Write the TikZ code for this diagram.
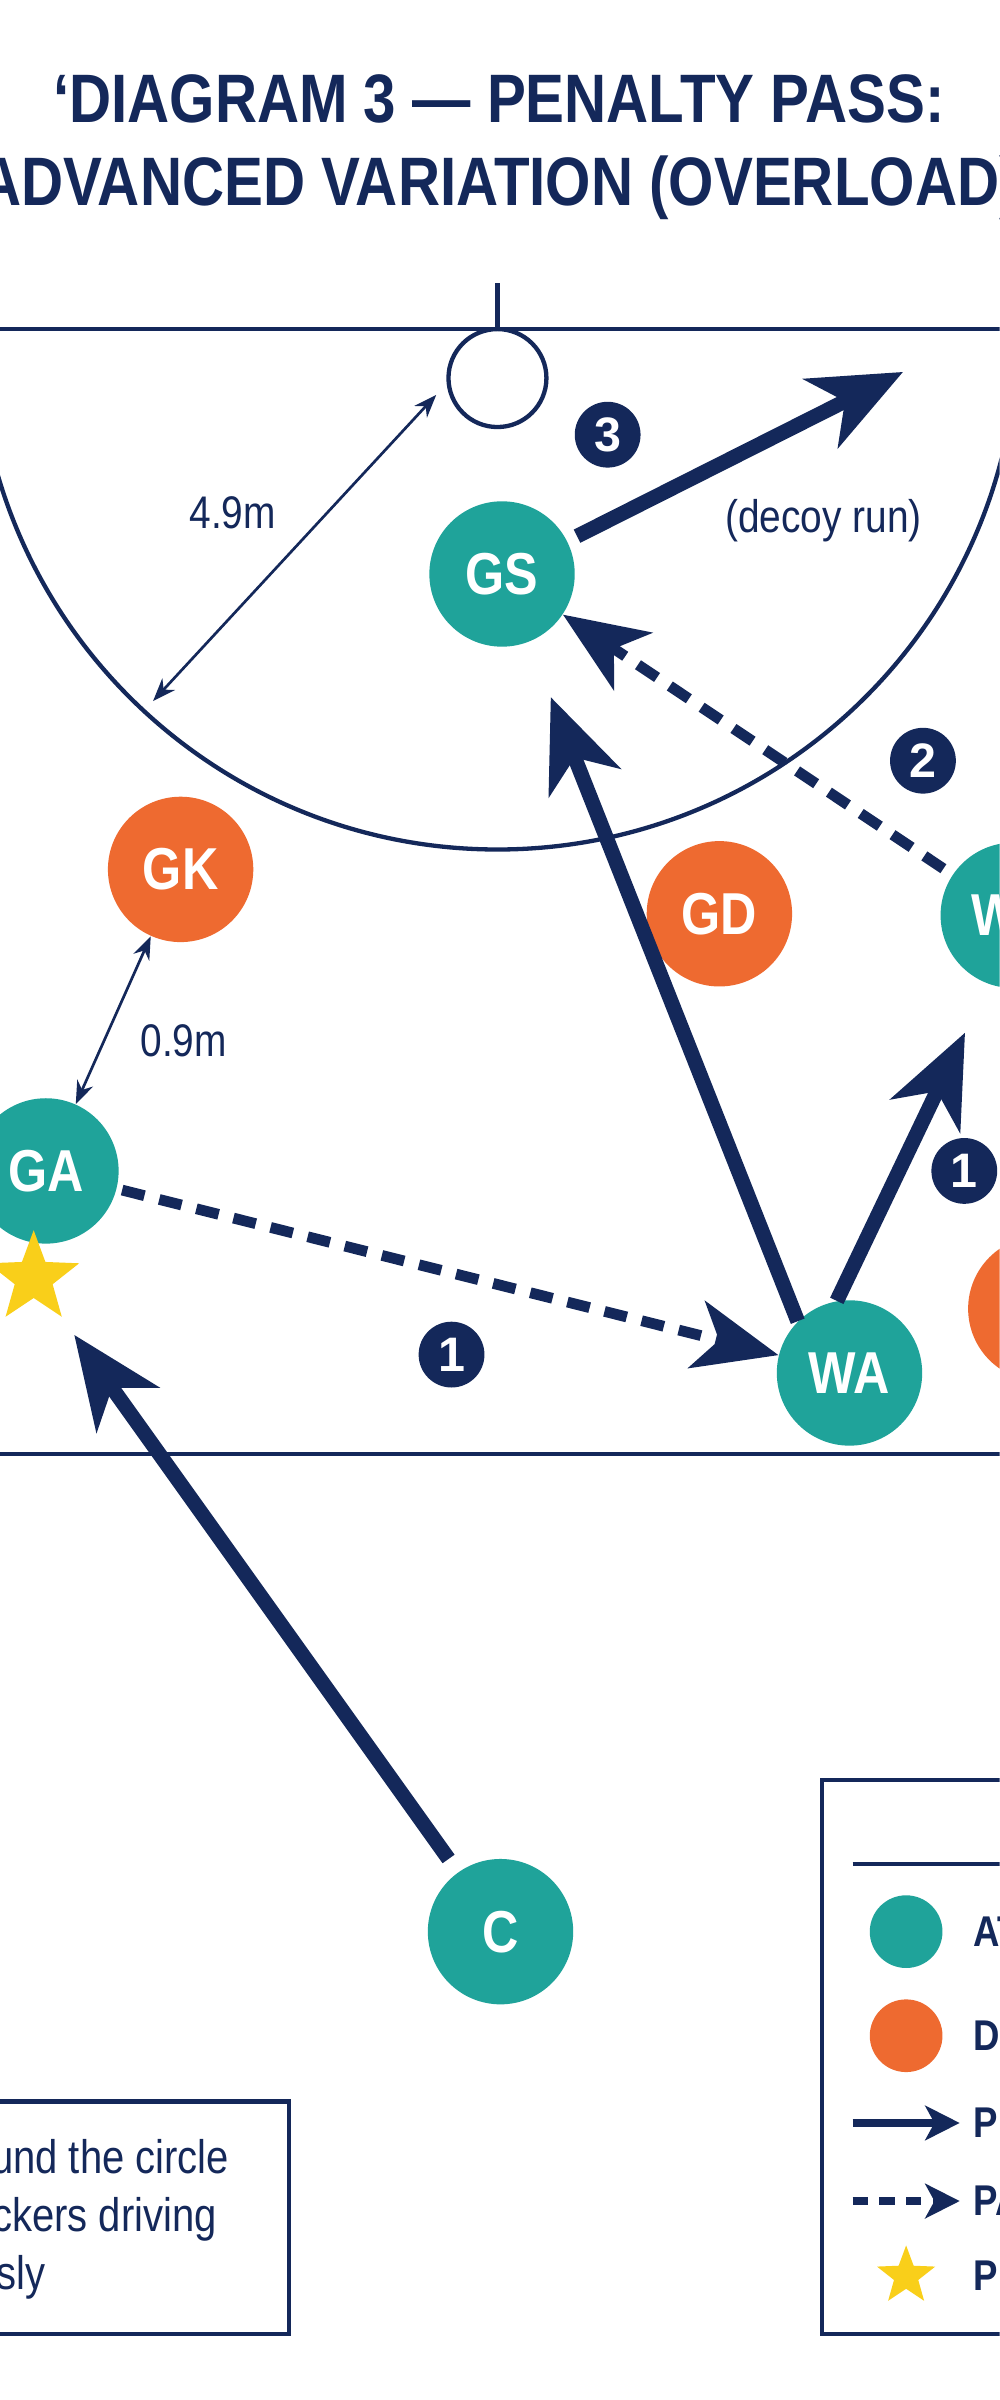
\documentclass[tikz,border=0pt]{standalone}
\usepackage{fontspec}
\setmainfont{Liberation Sans}
\newfontfamily\cond{Liberation Sans}[FakeStretch=0.85,BoldFeatures={FakeStretch=0.85}]
\usetikzlibrary{arrows.meta,shapes.geometric}
\definecolor{NavyClr}{HTML}{14285A}
\definecolor{TealClr}{HTML}{1FA39A}
\definecolor{OrangeClr}{HTML}{EE6A30}
\definecolor{StarClr}{HTML}{F9CF1A}

\tikzset{
  attack/.style={circle,fill=TealClr,text=white,minimum size=1.9cm,inner sep=0pt,
    font=\cond\bfseries\fontsize{22}{22}\selectfont},
  defend/.style={attack,fill=OrangeClr},
  badge/.style={circle,fill=NavyClr,text=white,minimum size=0.86cm,inner sep=0pt,
    font=\bfseries\fontsize{18}{18}\selectfont},
  run/.style={NavyClr,line width=5.5pt,-{Stealth[length=1.2cm,width=1cm,inset=0.35cm]}},
  pass/.style={NavyClr,line width=4pt,dash pattern=on 0.3cm off 0.2cm,
    -{Stealth[length=1.1cm,width=0.9cm,inset=0.3cm]}},
  measure/.style={NavyClr,line width=1pt,{Stealth[length=0.3cm]}-{Stealth[length=0.3cm]}},
  lbl/.style={text=NavyClr,font=\cond\fontsize{17}{17}\selectfont},
  noteline/.style={text=NavyClr,anchor=east,inner sep=0pt,font=\cond\fontsize{17.5}{17.5}\selectfont},
  legtext/.style={text=NavyClr,anchor=west,font=\cond\bfseries\fontsize{16}{16}\selectfont},
}

\begin{document}
\begin{tikzpicture}[x=0.02cm,y=-0.02cm]
\useasboundingbox (0,0) rectangle (653,1568);
\clip (0,0) rectangle (653,1568);
\fill[white] (0,0) rectangle (653,1568);

% title
\node[text=NavyClr,font=\cond\bfseries\fontsize{25.5}{31}\selectfont,align=center] (title) at (326,96)
  {‘DIAGRAM 3 — PENALTY PASS:\\ADVANCED VARIATION (OVERLOAD)};

% court
\draw[NavyClr,line width=1.6pt] (-10,215) -- (670,215);
\draw[NavyClr,line width=1.6pt] (-10,950) -- (670,950);
\draw[NavyClr,line width=1.6pt] (325,185) -- (325,215);
\draw[NavyClr,line width=1.6pt,fill=white] (325,247) circle[radius=32];
\draw[NavyClr,line width=1.6pt] (665,215) arc[start angle=0,end angle=180,radius=340];
\coordinate (ringedge) at (285,258);
\coordinate (circedge) at (100,458);
\coordinate (decoy) at (590,243);

% players
\node[attack] (GS) at (328,375) {GS};
\node[defend] (GK) at (118,568) {GK};
\node[defend] (GD) at (470,597) {GD};
\node[attack] (WD) at (662,598) {WD};
\node[attack] (GA) at (30,765) {GA};
\node[defend] (WAd) at (680,855) {WA};
\node[attack] (WA) at (555,897) {WA};
\node[attack] (C) at (327,1262) {C};
\node[star,star points=5,star point ratio=2.4,fill=StarClr,minimum size=1.25cm,inner sep=0pt] (pen) at (22,835) {};

% measures
\draw[measure] (circedge) -- (ringedge);
\node[lbl] (m49) at (152,335) {4.9m};
\draw[measure] (GK) -- (GA);
\node[lbl] (m09) at (120,680) {0.9m};

% movements and passes
\draw[pass,shorten <=2pt] (GA) -- (WA);
\draw[run,shorten >=22pt] (WA.135) -- (GS);
\draw[run,shorten >=20pt] (WA.100) -- (WD.250);
\draw[pass,shorten <=4pt] (WD) -- (GS);
\draw[run,shorten <=4pt] (GS) -- (decoy);
\draw[run,shorten <=6pt,shorten >=8pt] (C) -- (pen);
\node[lbl] (decoytxt) at (538,340) {(decoy run)};

\node[badge] (b1) at (295,885) {1};
\node[badge] (b1b) at (630,765) {1};
\node[badge] (b2) at (603,497) {2};
\node[badge] (b3) at (397,284) {3};

% note box
\draw[NavyClr,line width=1.6pt,fill=white] (-10,1373) rectangle (189,1525);
\node[noteline] (note1) at (150,1412) {Players spread around the circle};
\node[noteline] (note2) at (142,1450) {with multiple attackers driving};
\node[noteline] (note3) at (30,1488) {simultaneously};

% legend
\draw[NavyClr,line width=1.6pt,fill=white] (537,1163) rectangle (670,1525);
\draw[NavyClr,line width=1.6pt] (557,1218) -- (670,1218);
\node[circle,fill=TealClr,minimum size=0.95cm] (lt) at (592,1262) {};
\node[circle,fill=OrangeClr,minimum size=0.95cm] (lo) at (592,1330) {};
\coordinate (la1) at (557,1387); \coordinate (la2) at (627,1387);
\draw[NavyClr,line width=3pt,-{Stealth[length=0.45cm,width=0.45cm,inset=0.12cm]}] (la1) -- (la2);
\coordinate (lp1) at (557,1438); \coordinate (lp2) at (627,1438);
\draw[NavyClr,line width=3pt,dash pattern=on 0.2cm off 0.15cm,-{Stealth[length=0.45cm,width=0.45cm,inset=0.12cm]}] (lp1) -- (lp2);
\node[star,star points=5,star point ratio=2.4,fill=StarClr,minimum size=0.8cm,inner sep=0pt] (ls) at (592,1487) {};
\node[legtext] at (630,1262) {ATTACK};
\node[legtext] at (630,1330) {DEFENCE};
\node[legtext] at (630,1387) {PLAYER RUN};
\node[legtext] at (630,1438) {PASS};
\node[legtext] at (630,1487) {PENALTY};
\end{tikzpicture}
\end{document}
